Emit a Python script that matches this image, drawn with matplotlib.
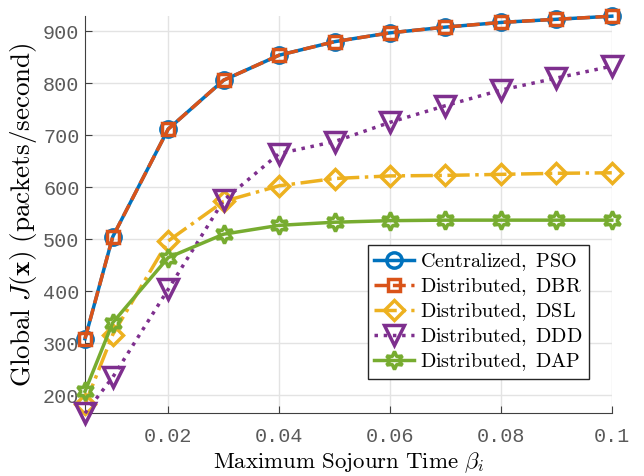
import numpy as np
import matplotlib
matplotlib.use("Agg")
import matplotlib.pyplot as plt

plt.rcParams['mathtext.fontset'] = 'cm'

# data
beta = [0.005, 0.01, 0.02, 0.03, 0.04, 0.05, 0.06, 0.07, 0.08, 0.09, 0.1]
pso = [309, 505, 712, 806, 854, 880, 897, 908, 917, 923, 929]
dbr = [309, 505, 712, 806, 854, 880, 897, 908, 917, 923, 929]
dsl = [183, 317, 497, 573, 603, 617, 622, 623, 625, 627, 628]
ddd = [166, 235, 404, 575, 665, 688, 725, 757, 787, 810, 833]
dap = [208, 340, 465, 510, 527, 533, 536, 537, 537, 537, 537]

names = ['Centralized, PSO', 'Distributed, DBR', 'Distributed, DSL',
         'Distributed, DDD', 'Distributed, DAP']
colors = ['#0072BD', '#D95319', '#EDB120', '#7E2F8E', '#77AC30']
styles = ['-', '--', '-.', ':', '-']
markers = ['o', 's', 'D', 'v', (6, 1, 0)]
msizes = [11, 9, 10, 14, 13]

fig = plt.figure(figsize=(6.44, 4.76), dpi=100)
ax = fig.add_axes([0.132, 0.132, 0.818, 0.834])

for ys, nm, c, ls, mk, ms in zip([pso, dbr, dsl, ddd, dap], names, colors, styles, markers, msizes):
    ax.plot(beta, ys, color=c, linestyle=ls, linewidth=2.5, marker=mk, markersize=ms,
            markerfacecolor='none', markeredgewidth=2.5, clip_on=False,
            label=r'$\mathrm{%s}$' % nm.replace(' ', r'\ '), zorder=3)

allv = pso + dbr + dsl + ddd + dap
ax.set_xlim(beta[0], beta[-1])
ax.set_ylim(min(allv), max(allv))
ax.set_xticks([0.02, 0.04, 0.06, 0.08, 0.1])
ax.set_xticklabels(['0.02', '0.04', '0.06', '0.08', '0.1'])
ax.set_yticks([200, 300, 400, 500, 600, 700, 800, 900])

ax.grid(True, color='#e3e3e3', linewidth=1)
ax.set_axisbelow(True)
for s in ['top', 'right']:
    ax.spines[s].set_visible(False)
for s in ['left', 'bottom']:
    ax.spines[s].set_color('#404040')
ax.tick_params(direction='in', length=5, colors='#404040', labelsize=14.5)
ax.tick_params(axis='x', pad=10)
ax.tick_params(axis='y', pad=4)
for lab in ax.get_xticklabels() + ax.get_yticklabels():
    lab.set_family('Liberation Mono')
    lab.set_color('#5a5a5a')

ax.set_xlabel(r'$\mathrm{Maximum\ Sojourn\ Time}\ \beta_i$', fontsize=16.5, labelpad=3)
ax.set_ylabel(r'$\mathrm{Global}\ J(\mathbf{x})\ \mathrm{(packets/second)}$', fontsize=19.5, labelpad=3)

leg = ax.legend(loc='lower right', bbox_to_anchor=(0.964, 0.076), fontsize=14.5, fancybox=False,
                framealpha=1, edgecolor='#262626', handlelength=2.0, handletextpad=0.3,
                borderpad=0.3, borderaxespad=0.2, labelspacing=0.15)
leg.get_frame().set_linewidth(1)

fig.savefig('out.png', dpi=100)
